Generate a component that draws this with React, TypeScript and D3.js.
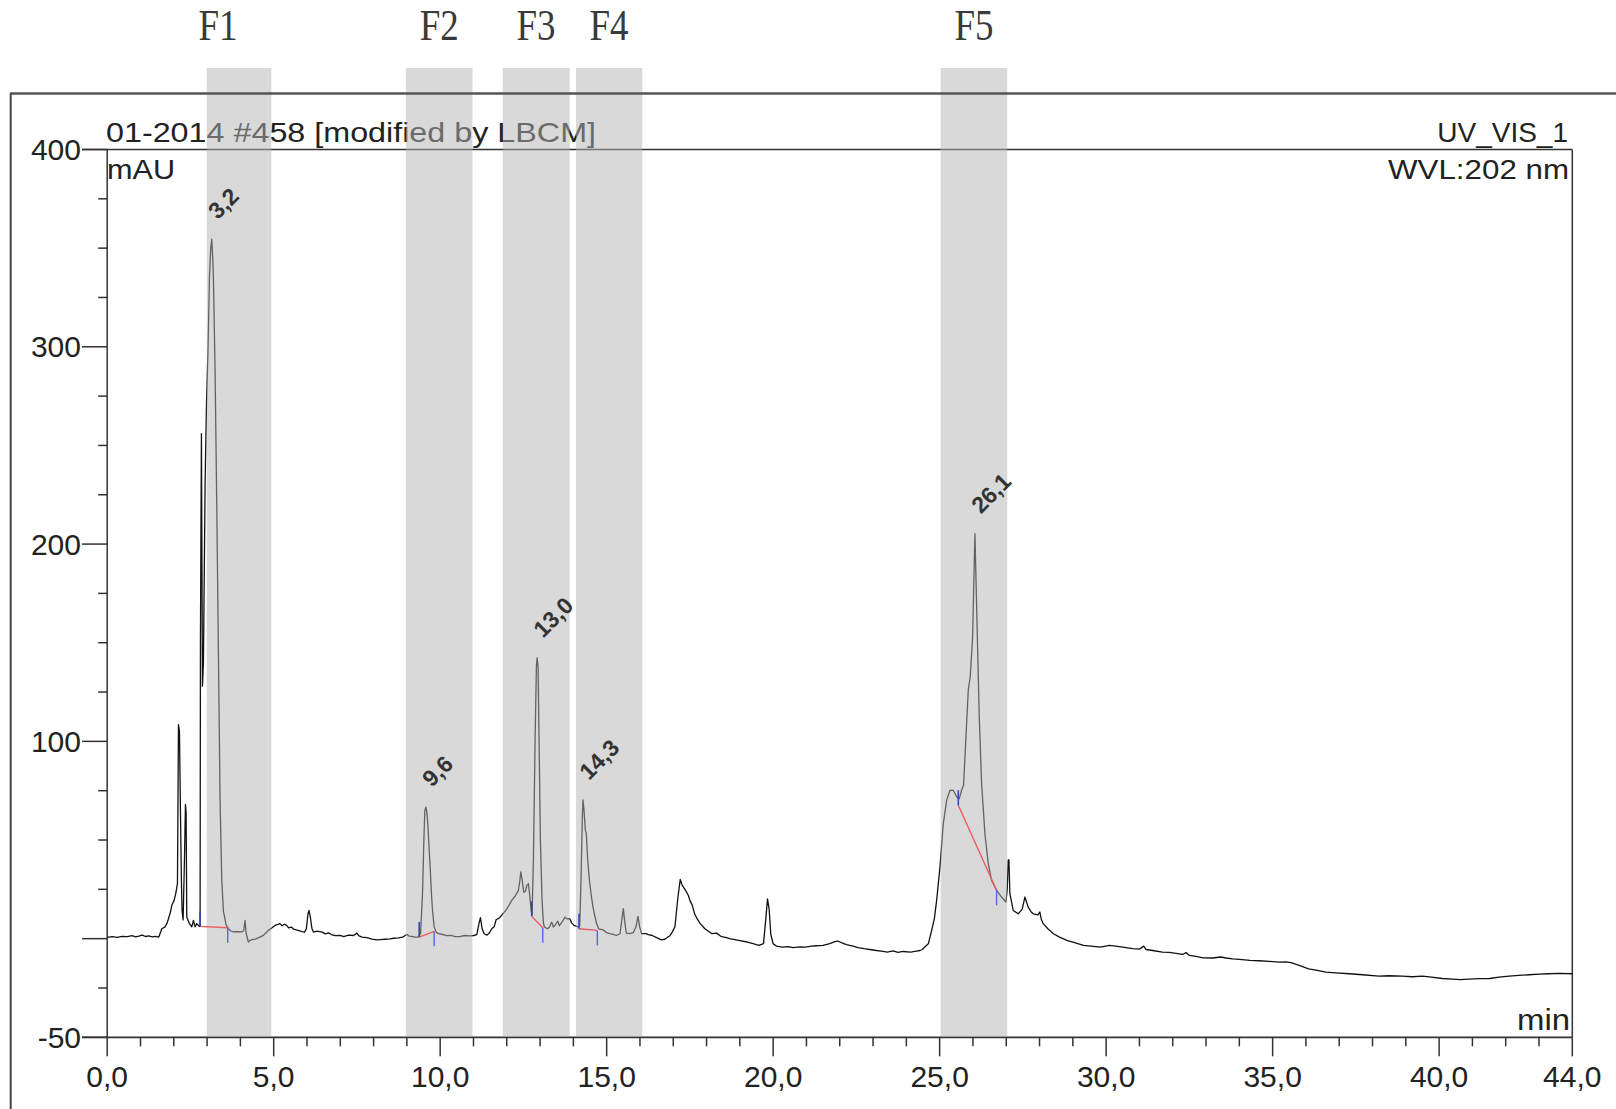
import React from 'react';
import * as d3 from 'd3';

const W = 1616;
const H = 1109;

// Chromatogram trace: [retention time (min), absorbance (mAU)]
const chromatogram: [number, number][] = [
  [0.0, 0.6], [0.15, 1.0], [0.3, 0.7], [0.45, 1.2], [0.6, 1.0], [0.75, 1.5], [0.85, 0.9], [0.95, 1.3],
  [1.05, 1.8], [1.15, 1.1], [1.25, 1.4], [1.35, 0.9], [1.45, 1.2], [1.55, 0.8],
  [1.64, 5.0], [1.74, 6.0], [1.8, 8.0], [1.84, 10.1], [1.9, 13.5], [1.94, 16.9], [2.01, 19.4], [2.06, 23.0], [2.11, 28.0],
  [2.14, 108.5], [2.17, 105.0], [2.2, 64.0], [2.23, 28.0], [2.25, 14.0], [2.28, 9.5],
  [2.32, 40.0], [2.35, 68.0], [2.37, 64.0], [2.39, 11.0], [2.47, 7.6], [2.54, 6.0], [2.59, 9.3], [2.64, 6.0],
  [2.69, 7.6], [2.77, 6.2], [2.79, 6.2],
  [2.8, 150.0], [2.83, 256.0], [2.86, 128.0], [2.89, 140.0], [2.94, 230.0], [2.98, 270.0], [3.03, 300.0],
  [3.07, 335.0], [3.11, 350.0], [3.14, 354.5], [3.17, 345.0], [3.19, 335.0], [3.24, 288.0], [3.29, 220.0],
  [3.34, 145.0], [3.39, 70.0], [3.44, 30.0], [3.49, 14.0], [3.57, 7.0], [3.64, 5.1], [3.7, 4.0], [3.79, 3.4],
  [3.9, 3.6], [4.04, 3.4], [4.1, 4.0], [4.14, 9.3], [4.17, 3.0], [4.24, -1.7], [4.3, -0.8], [4.34, -0.5],
  [4.45, -0.2], [4.55, 0.5], [4.69, 1.7], [4.84, 4.2], [4.95, 5.5], [5.05, 6.8], [5.13, 7.2], [5.19, 7.6],
  [5.25, 6.5], [5.32, 7.3], [5.39, 6.7], [5.45, 5.5], [5.53, 5.9], [5.6, 4.8], [5.73, 4.2], [5.85, 3.6],
  [5.93, 3.3], [5.98, 5.0], [6.03, 12.5], [6.06, 14.3], [6.1, 11.0], [6.15, 5.0], [6.2, 3.3], [6.3, 3.8],
  [6.46, 3.3], [6.55, 2.4], [6.65, 2.9], [6.73, 2.1], [6.85, 1.5], [7.0, 1.7], [7.1, 1.0], [7.25, 1.8],
  [7.4, 1.6], [7.5, 2.8], [7.55, 1.5], [7.65, 0.8], [7.8, 0.5], [7.95, -0.2], [8.1, -0.6], [8.2, -0.5],
  [8.35, -0.3], [8.5, -0.1], [8.6, 0.2], [8.75, 0.4], [8.87, 0.8], [8.95, 1.6], [9.0, 2.1], [9.07, 1.3],
  [9.14, 1.2], [9.25, 0.8], [9.34, 0.8], [9.41, 2.5], [9.47, 22.8], [9.51, 50.0], [9.54, 65.0], [9.57, 66.7],
  [9.6, 64.0], [9.63, 58.0], [9.66, 48.0], [9.7, 36.3], [9.74, 22.0], [9.77, 14.3], [9.82, 6.0], [9.88, 3.3],
  [9.95, 2.5], [10.08, 2.1], [10.2, 1.5], [10.34, 1.6], [10.45, 1.0], [10.61, 1.1], [10.75, 1.6], [10.9, 1.4],
  [11.01, 1.6], [11.1, 2.0], [11.17, 8.0], [11.21, 10.6], [11.26, 5.0], [11.32, 2.5], [11.41, 1.8], [11.48, 3.0],
  [11.55, 5.0], [11.62, 6.0], [11.68, 9.6], [11.78, 10.5], [11.88, 12.6], [12.0, 15.0], [12.15, 19.4],
  [12.25, 21.5], [12.35, 24.5], [12.39, 29.0], [12.42, 33.8], [12.46, 30.0], [12.51, 23.6], [12.56, 24.0],
  [12.6, 27.0], [12.65, 27.8], [12.69, 22.0], [12.73, 14.3], [12.76, 12.0], [12.8, 40.0], [12.85, 100.0],
  [12.89, 138.0], [12.91, 142.4], [12.94, 138.0], [12.97, 100.0], [13.01, 50.0], [13.06, 19.4], [13.1, 8.0],
  [13.13, 5.9], [13.22, 5.0], [13.28, 5.8], [13.35, 8.4], [13.4, 5.9], [13.45, 6.8], [13.53, 8.9], [13.58, 6.5],
  [13.65, 8.2], [13.75, 10.9], [13.82, 10.0], [13.89, 10.1], [13.95, 8.0], [14.02, 6.7], [14.1, 6.2],
  [14.16, 5.9], [14.19, 6.5], [14.23, 30.0], [14.27, 62.0], [14.29, 70.3], [14.32, 65.0], [14.36, 55.0],
  [14.39, 53.2], [14.43, 40.0], [14.48, 30.0], [14.53, 22.8], [14.58, 17.0], [14.63, 12.6], [14.7, 7.5],
  [14.76, 5.0], [14.89, 4.5], [15.0, 3.0], [15.09, 2.5], [15.2, 2.2], [15.29, 1.6], [15.4, 2.5], [15.46, 10.0],
  [15.5, 15.2], [15.54, 9.0], [15.59, 2.8], [15.7, 2.5], [15.8, 3.0], [15.88, 6.0], [15.94, 11.3], [15.99, 6.0],
  [16.05, 2.5], [16.18, 2.5], [16.25, 2.0], [16.37, 1.6], [16.5, 0.5], [16.64, -0.6], [16.75, -0.3],
  [16.84, 0.8], [16.9, 1.5], [16.97, 3.3], [17.05, 6.0], [17.14, 21.0], [17.21, 30.0], [17.27, 27.0],
  [17.37, 24.5], [17.45, 22.0], [17.5, 19.4], [17.57, 17.0], [17.64, 12.6], [17.72, 10.0], [17.81, 7.6],
  [17.95, 5.0], [18.16, 2.5], [18.3, 2.8], [18.45, 1.0], [18.6, 0.5], [18.69, 0.0], [18.85, -0.5], [19.0, -1.0],
  [19.22, -1.7], [19.4, -2.5], [19.57, -3.4], [19.71, -2.5], [19.78, 10.0], [19.83, 20.2], [19.88, 15.0],
  [19.93, 2.0], [20.0, -2.6], [20.1, -3.8], [20.27, -4.3], [20.45, -4.0], [20.6, -4.5], [20.8, -4.2],
  [20.97, -4.3], [21.15, -3.8], [21.3, -3.6], [21.5, -3.4], [21.7, -2.5], [21.85, -1.5], [21.94, -1.2],
  [22.05, -2.0], [22.2, -3.0], [22.4, -3.8], [22.55, -4.5], [22.73, -5.1], [22.9, -5.5], [23.1, -6.0],
  [23.25, -6.3], [23.43, -6.8], [23.6, -6.2], [23.75, -7.0], [23.9, -6.5], [24.13, -6.8], [24.3, -6.3],
  [24.41, -6.0], [24.48, -5.5], [24.6, -3.5], [24.66, -2.6], [24.76, 4.2], [24.84, 10.0], [24.91, 19.4],
  [25.01, 36.3], [25.11, 58.3], [25.21, 70.1], [25.31, 75.2], [25.41, 75.2], [25.51, 71.8], [25.59, 71.0],
  [25.66, 75.2], [25.72, 78.0], [25.76, 92.0], [25.81, 109.0], [25.86, 126.0], [25.92, 133.0], [25.99, 153.0],
  [26.03, 183.4], [26.06, 205.3], [26.09, 183.4], [26.13, 154.6], [26.19, 112.4], [26.26, 78.6], [26.36, 53.2],
  [26.46, 38.0], [26.56, 29.5], [26.71, 24.5], [26.86, 21.1], [26.99, 18.6], [27.03, 25.0], [27.06, 39.7],
  [27.08, 40.0], [27.11, 22.8], [27.21, 14.3], [27.36, 12.6], [27.48, 15.0], [27.56, 21.1], [27.66, 16.0],
  [27.75, 13.5], [27.81, 12.6], [27.95, 12.0], [28.01, 13.5], [28.05, 10.0], [28.11, 7.6], [28.25, 5.0],
  [28.42, 2.5], [28.6, 0.8], [28.82, -0.9], [29.05, -2.0], [29.32, -3.4], [29.55, -3.8], [29.82, -4.3],
  [30.1, -3.4], [30.4, -4.0], [30.8, -5.1], [31.0, -5.3], [31.13, -3.8], [31.2, -5.5], [31.4, -6.0],
  [31.69, -6.8], [31.9, -7.0], [32.1, -7.5], [32.3, -8.0], [32.4, -7.0], [32.5, -8.5], [32.7, -9.0],
  [32.92, -9.7], [33.2, -9.8], [33.44, -9.3], [33.6, -9.8], [33.8, -10.2], [34.0, -10.5], [34.32, -11.0],
  [34.6, -11.2], [34.9, -11.5], [35.2, -11.9], [35.4, -11.8], [35.55, -12.2], [35.8, -13.5], [36.08, -15.3],
  [36.3, -16.0], [36.6, -17.0], [36.9, -17.3], [37.3, -17.8], [37.7, -18.3], [38.19, -19.0], [38.5, -18.8],
  [38.89, -19.0], [39.2, -19.3], [39.5, -19.0], [39.77, -19.5], [40.1, -20.2], [40.4, -20.5], [40.64, -20.8],
  [40.9, -20.5], [41.2, -20.3], [41.52, -20.2], [41.8, -19.5], [42.1, -19.0], [42.4, -18.6], [42.7, -18.3],
  [43.0, -18.0], [43.28, -17.8], [43.6, -17.6], [44.0, -17.8],
];

// Labelled peaks
const peakLabels = ['3,2', '9,6', '13,0', '14,3', '26,1'];
const peakTimes = [3.14, 9.57, 12.91, 14.29, 26.06];
const peakHeights = [354.5, 66.7, 142.4, 70.3, 205.3];

// Integration baselines: [time, mAU] start and end
const baselineStarts: [number, number][] = [[2.79, 6.2], [9.37, 0.8], [12.75, 11.3], [14.17, 5.0], [25.56, 67.6]];
const baselineEnds: [number, number][] = [[3.62, 5.5], [9.82, 3.7], [13.08, 5.5], [14.72, 4.2], [26.71, 24.5]];

// Collected fractions
const fractionNames = ['F1', 'F2', 'F3', 'F4', 'F5'];
const fractionStart = [2.99, 8.97, 11.88, 14.08, 25.03];
const fractionEnd = [4.93, 10.97, 13.89, 16.07, 27.03];
const fractionLabelTime = [3.33, 9.97, 12.88, 15.07, 26.03];

// Axes
const yLabelTicks = [400, 300, 200, 100, -50];
const yMajorTicks = [400, 300, 200, 100, 0, -50];
const xMajorTicks = [0, 5, 10, 15, 20, 25, 30, 35, 40, 44];

const SANS = '"Liberation Sans", Arial, sans-serif';
const SERIF = '"Liberation Serif", "Times New Roman", serif';

export default function App() {
  const x = d3.scaleLinear().domain([0, 44]).range([107.2, 1572.3]);
  const y = d3.scaleLinear().domain([-50, 400]).range([1037.3, 149.5]);
  const line = d3.line<[number, number]>().x((d) => x(d[0])).y((d) => y(d[1]));

  const yMinor = d3.range(-25, 400, 25).filter((v) => !yMajorTicks.includes(v));
  const xMinor = d3.range(0, 45, 1).filter((v) => !xMajorTicks.includes(v));
  const fmt = (v: number) => v.toFixed(1).replace('.', ',');

  const axisColor = '#333';
  const x0 = x(0);
  const x1 = x(44);
  const yTop = y(400);
  const yBot = y(-50);

  return (
    <svg width={W} height={H} style={{ position: 'absolute', left: 0, top: 0, display: 'block' }}>
      <rect x={0} y={0} width={W} height={H} fill="#fff" />

      {/* header texts */}
      <text x={106} y={141.7} fontFamily={SANS} fontSize={28} fill="#222" textLength={490} lengthAdjust="spacingAndGlyphs">
        01-2014 #458 [modified by LBCM]
      </text>
      <text x={1568} y={141.7} fontFamily={SANS} fontSize={28} fill="#222" textAnchor="end">
        UV_VIS_1
      </text>
      <text x={1569} y={179.3} fontFamily={SANS} fontSize={28} fill="#222" textAnchor="end" textLength={181} lengthAdjust="spacingAndGlyphs">
        WVL:202 nm
      </text>
      <text x={107} y={179} fontFamily={SANS} fontSize={28} fill="#222" textLength={68} lengthAdjust="spacingAndGlyphs">
        mAU
      </text>
      <text x={1570} y={1030} fontFamily={SANS} fontSize={30} fill="#222" textAnchor="end" textLength={53} lengthAdjust="spacingAndGlyphs">
        min
      </text>

      {/* plot frame */}
      <line x1={82} x2={x1} y1={yTop} y2={yTop} stroke={axisColor} strokeWidth={1.5} />
      <line x1={x1} x2={x1} y1={yTop} y2={yBot} stroke={axisColor} strokeWidth={1.5} />
      <line x1={x0} x2={x0} y1={yTop} y2={yBot} stroke={axisColor} strokeWidth={1.5} />
      <line x1={82} x2={x1} y1={yBot} y2={yBot} stroke={axisColor} strokeWidth={1.8} />

      {/* y ticks */}
      {yMajorTicks.map((v) => (
        <line key={'ym' + v} x1={82} x2={x0} y1={y(v)} y2={y(v)} stroke={axisColor} strokeWidth={1.5} />
      ))}
      {yMinor.map((v) => (
        <line key={'yn' + v} x1={x0 - 9} x2={x0} y1={y(v)} y2={y(v)} stroke={axisColor} strokeWidth={1.5} />
      ))}
      {yLabelTicks.map((v) => (
        <text key={'yl' + v} x={81} y={y(v) + 10.7} textAnchor="end" fontFamily={SANS} fontSize={30} fill="#222">
          {v}
        </text>
      ))}

      {/* x ticks */}
      {xMajorTicks.map((v) => (
        <line key={'xm' + v} x1={x(v)} x2={x(v)} y1={yBot} y2={yBot + 19} stroke={axisColor} strokeWidth={1.5} />
      ))}
      {xMinor.map((v) => (
        <line key={'xn' + v} x1={x(v)} x2={x(v)} y1={yBot} y2={yBot + 9} stroke={axisColor} strokeWidth={1.5} />
      ))}
      {xMajorTicks.map((v) => (
        <text key={'xl' + v} x={x(v)} y={1086.7} textAnchor="middle" fontFamily={SANS} fontSize={30} fill="#222">
          {fmt(v)}
        </text>
      ))}

      {/* trace */}
      <path d={line(chromatogram) || ''} fill="none" stroke="#111" strokeWidth={1.3} strokeLinejoin="round" />

      {/* fraction bands */}
      {fractionNames.map((n, i) => (
        <rect
          key={'band' + n}
          x={x(fractionStart[i])}
          y={68}
          width={x(fractionEnd[i]) - x(fractionStart[i])}
          height={yBot - 1 - 68}
          fill="#b3b3b3"
          fillOpacity={0.5}
        />
      ))}

      {/* integration baselines */}
      {baselineStarts.map((s, i) => {
        const e = baselineEnds[i];
        return (
          <g key={'bl' + i}>
            <line x1={x(s[0])} y1={y(s[1])} x2={x(e[0])} y2={y(e[1])} stroke="#ec5a5a" strokeWidth={1.4} />
            <line x1={x(s[0])} y1={y(s[1])} x2={x(s[0])} y2={y(s[1]) - 15} stroke="#3445b8" strokeWidth={1.6} />
            <line x1={x(e[0])} y1={y(e[1])} x2={x(e[0])} y2={y(e[1]) + 15} stroke="#5566e6" strokeWidth={1.4} />
          </g>
        );
      })}

      {/* peak labels */}
      {peakLabels.map((lab, i) => {
        const px = x(peakTimes[i]) + 6;
        const py = y(peakHeights[i]) - 19;
        return (
          <text
            key={'pl' + lab}
            transform={`translate(${px},${py}) rotate(-45)`}
            fontFamily={SANS}
            fontSize={23}
            fontWeight="bold"
            fill="#333"
          >
            {lab}
          </text>
        );
      })}

      {/* outer frame */}
      <line x1={10} x2={W} y1={93.5} y2={93.5} stroke="#555" strokeWidth={2.6} />
      <line x1={10.7} x2={10.7} y1={93.5} y2={H} stroke="#444" strokeWidth={2} />

      {/* fraction labels */}
      {fractionNames.map((n, i) => (
        <text
          key={'fl' + n}
          transform={`translate(${x(fractionLabelTime[i])},40) scale(1,1.2)`}
          textAnchor="middle"
          fontFamily={SERIF}
          fontSize={37}
          fill="#3a3a3a"
        >
          {n}
        </text>
      ))}
    </svg>
  );
}
